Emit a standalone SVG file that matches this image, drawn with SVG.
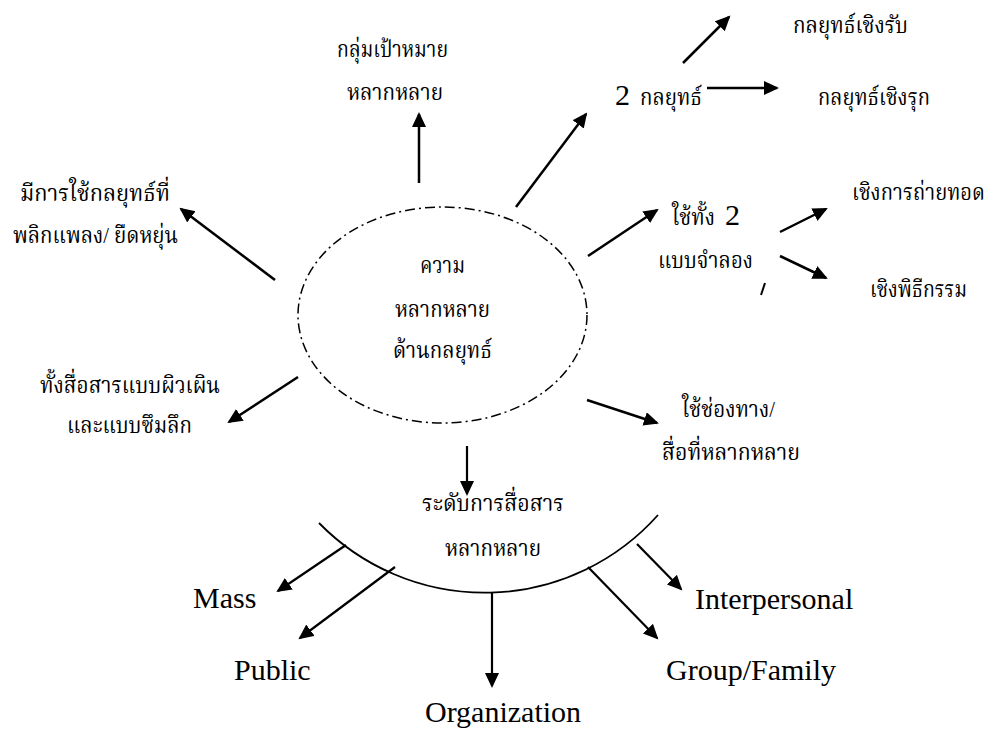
<svg xmlns="http://www.w3.org/2000/svg" width="993" height="736" viewBox="0 0 993 736">
  <style>
    .th { font-family: "Liberation Serif", "Noto Serif Thai", "Noto Sans Thai", "Noto Sans", serif; font-size: 23px; fill: #000; }
    .en { font-family: "Liberation Serif", "Times New Roman", serif; font-size: 30px; fill: #000; }
    .arr { stroke: #000; stroke-width: 2.5; fill: none; marker-end: url(#head); }
    .arr2 { stroke: #000; stroke-width: 2.2; fill: none; marker-end: url(#head); }
  </style>
  <defs>
    <marker id="head" markerUnits="userSpaceOnUse" markerWidth="16" markerHeight="16" refX="13" refY="7" orient="auto">
      <path d="M0,0 L15,7 L0,14 z" fill="#000"/>
    </marker>
  </defs>
  <rect width="993" height="736" fill="#fff"/>

  <!-- central ellipse -->
  <g id="center">
    <ellipse cx="442.5" cy="315" rx="144.5" ry="108" fill="none" stroke="#000" stroke-width="1.5" stroke-dasharray="10 4 2 4"/>
    <text class="th" x="442.5" y="273" text-anchor="middle" textLength="45" lengthAdjust="spacingAndGlyphs">ความ</text>
    <text class="th" x="442.5" y="317" text-anchor="middle" textLength="95" lengthAdjust="spacingAndGlyphs">หลากหลาย</text>
    <text class="th" x="442.5" y="358" text-anchor="middle" textLength="99" lengthAdjust="spacingAndGlyphs">ด้านกลยุทธ์</text>
  </g>

  <g id="target">
    <text class="th" x="337" y="57" textLength="111" lengthAdjust="spacingAndGlyphs">กลุ่มเป้าหมาย</text>
    <text class="th" x="347" y="100" textLength="96" lengthAdjust="spacingAndGlyphs">หลากหลาย</text>
  </g>

  <g id="flexible">
    <text class="th" x="20" y="201" textLength="150" lengthAdjust="spacingAndGlyphs">มีการใช้กลยุทธ์ที่</text>
    <text class="th" x="13" y="243" textLength="165" lengthAdjust="spacingAndGlyphs">พลิกแพลง/ ยืดหยุ่น</text>
  </g>

  <g id="two-strategies">
    <text class="en" x="615" y="105">2</text>
    <text class="th" x="640" y="105" textLength="62" lengthAdjust="spacingAndGlyphs">กลยุทธ์</text>
  </g>

  <g id="defensive">
    <text class="th" x="793" y="33" textLength="115" lengthAdjust="spacingAndGlyphs">กลยุทธ์เชิงรับ</text>
  </g>

  <g id="offensive">
    <text class="th" x="818" y="105" textLength="112" lengthAdjust="spacingAndGlyphs">กลยุทธ์เชิงรุก</text>
  </g>

  <g id="two-models">
    <text class="th" x="672" y="225" textLength="43" lengthAdjust="spacingAndGlyphs">ใช้ทั้ง</text>
    <text class="en" x="725" y="225">2</text>
    <text class="th" x="658" y="268" textLength="95" lengthAdjust="spacingAndGlyphs">แบบจำลอง</text>
  </g>

  <g id="transmission">
    <text class="th" x="852" y="200" font-size="19" textLength="133" lengthAdjust="spacingAndGlyphs">เชิงการถ่ายทอด</text>
  </g>

  <g id="ritual">
    <text class="th" x="870" y="297" textLength="97" lengthAdjust="spacingAndGlyphs">เชิงพิธีกรรม</text>
  </g>

  <g id="depth">
    <text class="th" x="40" y="393" textLength="180" lengthAdjust="spacingAndGlyphs">ทั้งสื่อสารแบบผิวเผิน</text>
    <text class="th" x="67" y="433" textLength="125" lengthAdjust="spacingAndGlyphs">และแบบซึมลึก</text>
  </g>

  <g id="channels">
    <text class="th" x="682" y="417" textLength="93" lengthAdjust="spacingAndGlyphs">ใช้ช่องทาง/</text>
    <text class="th" x="662" y="460" textLength="138" lengthAdjust="spacingAndGlyphs">สื่อที่หลากหลาย</text>
  </g>

  <g id="levels">
    <path d="M319,523 A232,232 0 0 0 658,515" fill="none" stroke="#000" stroke-width="1.8"/>
    <text class="th" x="422" y="511" textLength="142" lengthAdjust="spacingAndGlyphs">ระดับการสื่อสาร</text>
    <text class="th" x="445" y="556" textLength="96" lengthAdjust="spacingAndGlyphs">หลากหลาย</text>
  </g>

  <g id="mass"><text class="en" x="193" y="608">Mass</text></g>
  <g id="public"><text class="en" x="234" y="680">Public</text></g>
  <g id="organization"><text class="en" x="425" y="722">Organization</text></g>
  <g id="interpersonal"><text class="en" x="695" y="609">Interpersonal</text></g>
  <g id="group-family"><text class="en" x="666" y="680">Group/Family</text></g>

  <!-- connectors -->
  <g id="connectors">
    <line class="arr" x1="419" y1="183" x2="419" y2="114"/>
    <line class="arr" x1="516" y1="207" x2="586" y2="114"/>
    <line class="arr" x1="707" y1="88" x2="777" y2="88"/>
    <line class="arr" x1="683" y1="63" x2="729" y2="17"/>
    <line class="arr" x1="588" y1="256" x2="657" y2="210"/>
    <line class="arr" x1="780" y1="232" x2="826" y2="209"/>
    <line class="arr" x1="780" y1="256" x2="826" y2="278"/>
    <line x1="765" y1="283" x2="761" y2="295" stroke="#000" stroke-width="2"/>
    <line class="arr" x1="275" y1="280" x2="181" y2="209"/>
    <line class="arr" x1="298" y1="377" x2="229" y2="422"/>
    <line class="arr" x1="587" y1="400" x2="657" y2="423"/>
    <line class="arr2" x1="467" y1="446" x2="467" y2="494"/>
    <line class="arr2" x1="346" y1="545" x2="278" y2="591"/>
    <line class="arr2" x1="395" y1="567" x2="300" y2="638"/>
    <line class="arr2" x1="492" y1="592" x2="492" y2="686"/>
    <line class="arr2" x1="588" y1="567" x2="657" y2="638"/>
    <line class="arr2" x1="637" y1="544" x2="681" y2="589"/>
  </g>
</svg>
